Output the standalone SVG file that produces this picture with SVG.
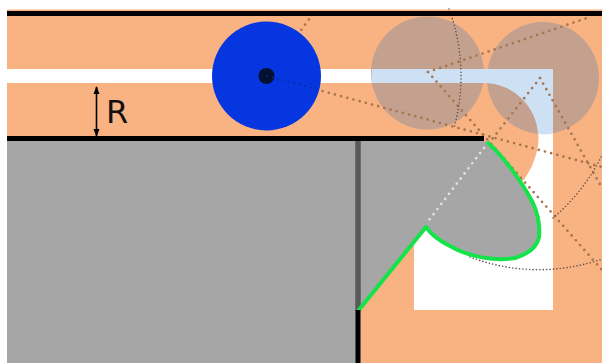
<svg xmlns="http://www.w3.org/2000/svg" width="602" height="363" viewBox="0 0 602 363">
<defs>
<style>
.orange{fill:#f9b282}
.ghost{fill:#c3a18e}
.wall{fill:none;stroke:#000;stroke-width:5}
.big{fill:none;stroke:#a5764f;stroke-width:2.7;stroke-linecap:round;stroke-dasharray:0 6.4}
.fine{fill:none;stroke:#5f5047;stroke-width:1.6;stroke-linecap:round;stroke-dasharray:0 3.4}
</style>
<marker id="tip" viewBox="0 0 8 8" refX="7" refY="4" markerWidth="8" markerHeight="8" markerUnits="userSpaceOnUse" orient="auto-start-reverse"><path d="M0,1 L8,4 L0,7 Z" fill="#000"/></marker>
</defs>
<rect width="602" height="363" fill="#fff"/>
<g id="field">
<rect class="orange" x="7" y="9.5" width="595" height="353.5"/>
<path d="M7,69 H553 V310 H414 V180 H490 V83 H7 Z" fill="#fff"/>
<path class="orange" d="M484,83 A54.5,54.5 0 0 1 538.5,137 C539,150 533,168 523,181 L484,181 Z"/>
</g>
<g id="ghost-balls">
<circle class="ghost" cx="427.5" cy="73" r="56.5"/>
<circle class="ghost" cx="543" cy="78" r="56"/>
<path d="M372,69 H553 V133.5 Q545,135 538,134 A54.5,54.5 0 0 0 484,83 H372 Q371,76 372,69 Z" fill="#cde0f4"/>
</g>
<g id="connectors">
<path class="big" d="M267,76 L602,167"/>
<path class="big" d="M267,76 L316,10"/>
<path class="big" d="M428,72 L590,17"/>
<path class="big" d="M428,72 L602,270"/>
<path class="big" d="M540,78 L424,226"/>
<path class="big" d="M540,78 L602,188"/>
<path class="fine" d="M449,9 A194,194 0 0 1 454,128"/>
<path class="fine" d="M553,218 A192,192 0 0 0 602,155"/>
<path class="fine" d="M470,257 A192,192 0 0 0 602,259"/>
</g>
<g id="solid">
<path d="M7,141 H484 L487,142 C503,156 521,180 533,203 C538,214 540,226 539,237 C537,247 528,254 515,258 C497,261 470,258 450,246 C440,241 431,234 426,227 L358,311 V363 H7 Z" fill="#a6a6a6"/>
<path d="M358,141 V311" stroke="#595959" stroke-width="5.5" fill="none"/>
<path d="M484,148 L426,224" fill="none" stroke="#e2e2e2" stroke-width="2.7" stroke-linecap="round" stroke-dasharray="0 6.4"/>
<path d="M487,142 C503,156 521,180 533,203 C538,214 540,226 539,237 C537,247 528,254 515,258 C497,261 470,258 450,246 C440,241 431,234 426,227 L358,311" fill="none" stroke="#14e34a" stroke-width="4" stroke-linejoin="round"/>
</g>
<g id="walls">
<path class="wall" d="M7,13.5 H602"/>
<path class="wall" d="M7,138.5 H484"/>
<path class="wall" d="M358,310 V363"/>
</g>
<g id="ball">
<circle cx="266.5" cy="76" r="54.5" fill="#0636e0"/>
<circle cx="266.5" cy="76" r="8" fill="#03102f"/>
<path d="M267,76 L320,90" fill="none" stroke="#0a2aa8" stroke-width="2" stroke-linecap="round" stroke-dasharray="0 5.6"/>
</g>
<g id="radius-label">
<path d="M96.5,87 V136" fill="none" stroke="#000" stroke-width="1.6" marker-start="url(#tip)" marker-end="url(#tip)"/>
<text x="106" y="123" font-family="'DejaVu Sans',sans-serif" font-size="32" fill="#111">R</text>
</g>
</svg>
